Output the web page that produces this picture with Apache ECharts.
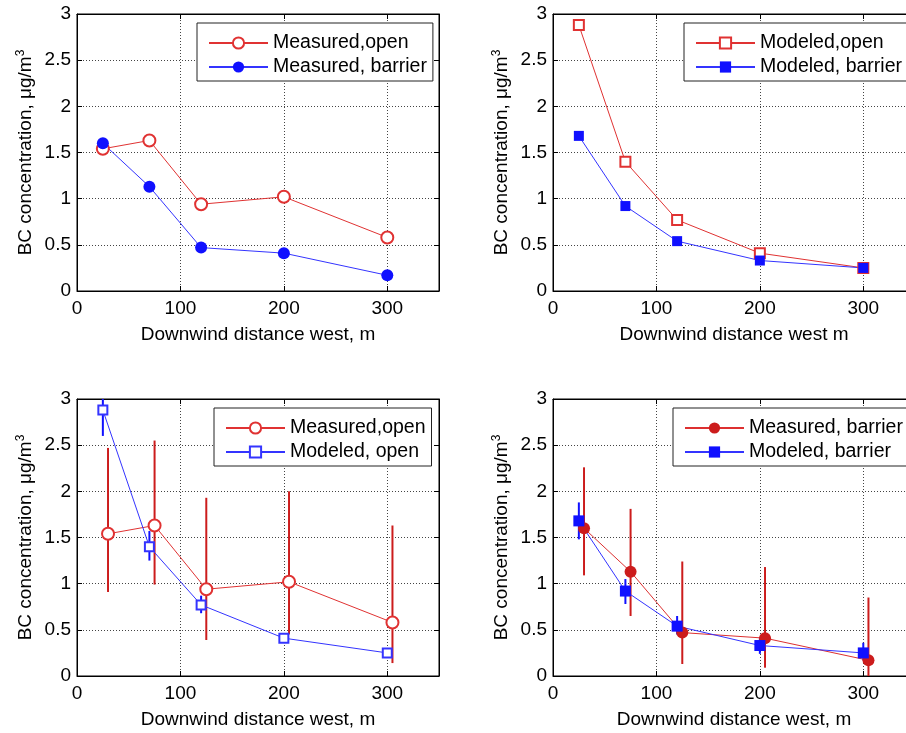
<!DOCTYPE html>
<html><head><meta charset="utf-8">
<script src="https://cdn.jsdelivr.net/npm/echarts@6/dist/echarts.min.js"></script>
<style>html,body{margin:0;padding:0;background:#fff;overflow:hidden}#c{width:906px;height:733px}</style>
</head><body><div id="c"></div>
<script>
// ---- data ----
const distances = [25, 70, 120, 200, 300];
const distancesShifted = [30, 75, 125, 205, 305];
const measuredOpen = [1.54, 1.63, 0.94, 1.02, 0.58];
const measuredBarrier = [1.60, 1.13, 0.47, 0.41, 0.17];
const modeledOpen = [2.88, 1.40, 0.77, 0.41, 0.25];
const modeledBarrier = [1.68, 0.92, 0.54, 0.33, 0.25];
const measuredOpenLow = [0.91, 0.99, 0.39, 0.45, 0.14];
const measuredOpenHigh = [2.47, 2.55, 1.93, 2.00, 1.63];
const modeledOpenLow = [2.60, 1.25, 0.68, 0.38, 0.22];
const modeledOpenHigh = [3.10, 1.57, 0.87, 0.44, 0.29];
const measuredBarrierLow = [1.09, 0.65, 0.13, 0.09, -0.10];
const measuredBarrierHigh = [2.26, 1.81, 1.24, 1.18, 0.85];
const modeledBarrierLow = [1.48, 0.78, 0.45, 0.24, 0.17];
const modeledBarrierHigh = [1.88, 1.05, 0.65, 0.42, 0.36];
const xAxisNames = ['Downwind distance west, m', 'Downwind distance west m', 'Downwind distance west, m', 'Downwind distance west, m'];
const yAxisName = 'BC concentration, \u03bcg/m{sup|3}';
const legendLabels = {
  p1a: 'Measured,open', p1b: 'Measured, barrier',
  p2a: 'Modeled,open', p2b: 'Modeled, barrier',
  p3a: 'Measured,open', p3b: 'Modeled, open',
  p4a: 'Measured, barrier', p4b: 'Modeled, barrier'
};

// ---- styles ----
const FONT = "'Liberation Sans', Arial, sans-serif";
const RED = '#e03232', BLUE = '#3434ff', DRED = '#cc1c1c', FBLUE = '#1010ff';
const grids = [
  {left: 77, top: 14, width: 362, height: 277},
  {left: 553, top: 14, width: 362, height: 277},
  {left: 77, top: 399, width: 362, height: 277},
  {left: 553, top: 399, width: 362, height: 277}
];

function pairs(xs, ys) { return xs.map((x, i) => [x, ys[i]]); }
function triples(xs, lo, hi) { return xs.map((x, i) => [x, lo[i], hi[i]]); }

const xAxes = [], yAxes = [];
grids.forEach((g, i) => {
  xAxes.push({
    type: 'value', gridIndex: i, min: 0, max: 350, interval: 100,
    name: xAxisNames[i], nameLocation: 'middle', nameGap: 34,
    nameTextStyle: {fontSize: 19, fontFamily: FONT, color: '#000'},
    axisLine: {show: true, onZero: false, lineStyle: {color: '#000', width: 1}},
    axisTick: {show: true, inside: true, length: 5, lineStyle: {color: '#000'}},
    axisLabel: {fontSize: 19, fontFamily: FONT, color: '#000', margin: 8, showMaxLabel: false},
    splitLine: {show: true, showMinLine: false, showMaxLine: false, lineStyle: {color: '#444', type: [1, 2], width: 1}}
  });
  xAxes.push({
    type: 'value', gridIndex: i, min: 0, max: 350, interval: 100, position: 'top',
    axisLine: {show: true, onZero: false, lineStyle: {color: '#000', width: 1}},
    axisTick: {show: true, inside: true, length: 5, lineStyle: {color: '#000'}},
    axisLabel: {show: false}, splitLine: {show: false}
  });
  yAxes.push({
    type: 'value', gridIndex: i, min: 0, max: 3, interval: 0.5,
    name: yAxisName, nameLocation: 'middle', nameGap: 40,
    nameTextStyle: {fontSize: 19, fontFamily: FONT, color: '#000',
      rich: {sup: {fontSize: 12, fontFamily: FONT, color: '#000', verticalAlign: 'top', padding: [0, 0, 10, 0]}}},
    axisLine: {show: true, onZero: false, lineStyle: {color: '#000', width: 1}},
    axisTick: {show: true, inside: true, length: 5, lineStyle: {color: '#000'}},
    axisLabel: {fontSize: 19, fontFamily: FONT, color: '#000', margin: 6},
    splitLine: {show: true, showMinLine: false, showMaxLine: false, lineStyle: {color: '#444', type: [1, 2], width: 1}}
  });
  yAxes.push({
    type: 'value', gridIndex: i, min: 0, max: 3, interval: 0.5, position: 'right',
    axisLine: {show: true, onZero: false, lineStyle: {color: '#000', width: 1}},
    axisTick: {show: true, inside: true, length: 5, lineStyle: {color: '#000'}},
    axisLabel: {show: false}, splitLine: {show: false}
  });
});

function lineSeries(name, panel, xs, ys, symbol, size, color, markerColor) {
  return {
    name: name, type: 'line', xAxisIndex: panel * 2, yAxisIndex: panel * 2,
    data: pairs(xs, ys), symbol: symbol, symbolSize: size, showAllSymbol: true,
    lineStyle: {color: color, width: 1}, itemStyle: {color: markerColor || color, borderWidth: 1},
    emphasis: {disabled: true}, animation: false, z: 3
  };
}
function errSeries(panel, xs, lo, hi, color, width) {
  return {
    type: 'custom', xAxisIndex: panel * 2, yAxisIndex: panel * 2, clip: true,
    data: triples(xs, lo, hi), animation: false, z: 2, silent: true,
    renderItem: function (params, api) {
      const x = api.value(0);
      const p1 = api.coord([x, Math.max(api.value(1), 0)]);
      const p2 = api.coord([x, Math.min(api.value(2), 3)]);
      return {type: 'line', shape: {x1: p1[0], y1: p1[1], x2: p2[0], y2: p2[1]},
        style: {stroke: color, lineWidth: width}};
    }
  };
}

const series = [
  lineSeries('p1a', 0, distances, measuredOpen, 'emptyCircle', 12, RED),
  lineSeries('p1b', 0, distances, measuredBarrier, 'circle', 12, BLUE, FBLUE),
  lineSeries('p2a', 1, distances, modeledOpen, 'emptyRect', 10, RED),
  lineSeries('p2b', 1, distances, modeledBarrier, 'rect', 10, BLUE, FBLUE),
  errSeries(2, distancesShifted, measuredOpenLow, measuredOpenHigh, DRED, 2),
  lineSeries('p3a', 2, distancesShifted, measuredOpen, 'emptyCircle', 12, RED),
  errSeries(2, distances, modeledOpenLow, modeledOpenHigh, FBLUE, 2),
  lineSeries('p3b', 2, distances, modeledOpen, 'emptyRect', 9, BLUE),
  errSeries(3, distancesShifted, measuredBarrierLow, measuredBarrierHigh, DRED, 2),
  lineSeries('p4a', 3, distancesShifted, measuredBarrier, 'circle', 12, '#dd3030', DRED),
  errSeries(3, distances, modeledBarrierLow, modeledBarrierHigh, FBLUE, 2),
  lineSeries('p4b', 3, distances, modeledBarrier, 'rect', 11, BLUE, FBLUE)
];

function legend(names, left, top) {
  return {
    data: names, left: left, top: top, orient: 'vertical',
    itemWidth: 59, itemHeight: 14, itemGap: 2,
    padding: [9, 6, 3, 11], borderColor: '#222', borderWidth: 1, backgroundColor: '#fff',
    selectedMode: false,
    textStyle: {fontSize: 19.5, lineHeight: 22, fontFamily: FONT, color: '#000'},
    formatter: function (n) { return legendLabels[n]; }
  };
}

const chart = echarts.init(document.getElementById('c'), null, {renderer: 'canvas'});
chart.setOption({
  animation: false,
  backgroundColor: '#fff',
  grid: grids.map(g => Object.assign({show: true, borderColor: '#000', borderWidth: 1, backgroundColor: '#fff', outerBoundsMode: 'none', containLabel: false}, g)),
  xAxis: xAxes, yAxis: yAxes,
  legend: [
    legend(['p1a', 'p1b'], 197, 23),
    legend(['p2a', 'p2b'], 684, 23),
    legend(['p3a', 'p3b'], 214, 408),
    legend(['p4a', 'p4b'], 673, 408)
  ],
  series: series
});
</script></body></html>
